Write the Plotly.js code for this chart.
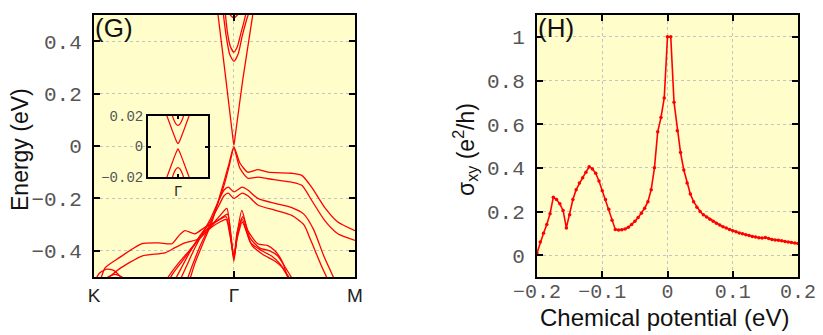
<!DOCTYPE html>
<html>
<head>
<meta charset="utf-8">
<script src="https://cdn.plot.ly/plotly-3.0.1.min.js"></script>
<style>html,body{margin:0;padding:0;background:#fff;}#chart{width:823px;height:335px;}</style>
</head>
<body>
<div id="chart"></div>
<script>
// ---------- Panel (G): band structure, k path K(0) - Γ(1) - M(1.866) ----------
const kTickVals = [0, 1, 1.866];
const kTickText = ['K', 'Γ', 'M'];
const energyTicks = [-0.4, -0.2, 0, 0.2, 0.4];

// conduction bands
const kDirac = [0.886, 0.943, 0.99, 1.0, 1.01, 1.064, 1.136];
const eDirac = [0.504, 0.254, 0.044, 0.003, 0.04, 0.254, 0.504];
const kU1 = [0.936, 0.955, 0.975, 1.0, 1.025, 1.05, 1.07, 1.093];
const eU1 = [0.52, 0.43, 0.38, 0.358, 0.38, 0.43, 0.47, 0.52];
const kU2 = [0.921, 0.945, 0.97, 1.0, 1.03, 1.06, 1.09, 1.114];
const eU2 = [0.52, 0.42, 0.35, 0.323, 0.35, 0.42, 0.48, 0.52];
const kTop = [0.95, 0.975, 1.0, 1.025, 1.055];
const eTop = [0.53, 0.5, 0.49, 0.5, 0.53];

// valence bands
const kA1 = [0.68, 0.72, 0.78, 0.843, 0.9, 0.93, 0.964, 1.0, 1.043, 1.1, 1.171, 1.243, 1.414, 1.486, 1.557, 1.65, 1.743, 1.866];
const eA1 = [-0.52, -0.45, -0.37, -0.29, -0.19, -0.135, -0.07, -0.003, -0.065, -0.1, -0.09, -0.1, -0.104, -0.112, -0.158, -0.235, -0.29, -0.323];
const kA2 = [0.66, 0.7, 0.76, 0.83, 0.89, 0.93, 0.965, 1.0, 1.043, 1.1, 1.171, 1.243, 1.414, 1.486, 1.557, 1.65, 1.743, 1.866];
const eA2 = [-0.52, -0.46, -0.38, -0.30, -0.21, -0.15, -0.08, -0.008, -0.085, -0.123, -0.119, -0.125, -0.138, -0.15, -0.208, -0.285, -0.335, -0.36];
const kB1 = [0.6, 0.66, 0.72, 0.78, 0.84, 0.89, 0.93, 0.96, 1.0, 1.06, 1.1, 1.171, 1.293, 1.414, 1.5, 1.571, 1.643, 1.72];
const eB1 = [-0.53, -0.46, -0.39, -0.33, -0.27, -0.21, -0.168, -0.157, -0.175, -0.157, -0.168, -0.2, -0.219, -0.235, -0.26, -0.32, -0.42, -0.51];
const kB2 = [0.56, 0.62, 0.69, 0.76, 0.83, 0.89, 0.93, 0.96, 1.0, 1.06, 1.1, 1.171, 1.293, 1.414, 1.5, 1.55, 1.62, 1.68];
const eB2 = [-0.53, -0.47, -0.40, -0.34, -0.29, -0.23, -0.19, -0.18, -0.2, -0.18, -0.19, -0.225, -0.245, -0.265, -0.30, -0.36, -0.45, -0.52];
const kC1 = [0.0, 0.043, 0.079, 0.179, 0.343, 0.464, 0.557, 0.607, 0.65, 0.721, 0.793, 0.857, 0.91, 0.95, 0.975, 1.0, 1.025, 1.057, 1.1, 1.171, 1.243, 1.293, 1.343, 1.386];
const eC1 = [-0.56, -0.515, -0.465, -0.427, -0.373, -0.37, -0.373, -0.342, -0.323, -0.335, -0.31, -0.292, -0.26, -0.238, -0.33, -0.44, -0.33, -0.246, -0.323, -0.373, -0.38, -0.40, -0.438, -0.504];
const kC2 = [0.079, 0.179, 0.343, 0.507, 0.579, 0.65, 0.75, 0.857, 0.91, 0.955, 0.977, 1.0, 1.023, 1.064, 1.114, 1.186, 1.257, 1.314, 1.364, 1.414];
const eC2 = [-0.515, -0.47, -0.42, -0.408, -0.388, -0.37, -0.354, -0.296, -0.275, -0.26, -0.33, -0.425, -0.33, -0.27, -0.35, -0.39, -0.40, -0.42, -0.46, -0.504];
const kD1 = [0.5, 0.56, 0.63, 0.7, 0.77, 0.84, 0.9, 0.945, 0.975, 1.0, 1.025, 1.06, 1.12, 1.2, 1.27, 1.33, 1.38, 1.43];
const eD1 = [-0.55, -0.49, -0.44, -0.39, -0.34, -0.3, -0.28, -0.27, -0.34, -0.43, -0.34, -0.28, -0.37, -0.40, -0.42, -0.45, -0.49, -0.53];
const kD2 = [0.46, 0.53, 0.6, 0.68, 0.76, 0.84, 0.9, 0.945, 0.975, 1.0, 1.025, 1.06, 1.13, 1.21, 1.28, 1.34, 1.39, 1.45];
const eD2 = [-0.56, -0.5, -0.45, -0.4, -0.35, -0.31, -0.29, -0.28, -0.35, -0.42, -0.35, -0.29, -0.38, -0.415, -0.435, -0.46, -0.5, -0.54];
const kArc1 = [0.0, 0.04, 0.09, 0.14, 0.19, 0.23];
const eArc1 = [-0.52, -0.485, -0.47, -0.475, -0.5, -0.53];
const kArc2 = [0.06, 0.1, 0.15, 0.2, 0.24];
const eArc2 = [-0.53, -0.5, -0.49, -0.5, -0.53];

// inset: zoom near Γ
const insetTicks = [-0.02, 0, 0.02];
const kInV = [-0.5, -0.35, -0.2, -0.1, -0.04, 0, 0.04, 0.1, 0.2, 0.35, 0.5];
const eInVup = [0.027, 0.019, 0.011, 0.0058, 0.003, 0.0018, 0.003, 0.0058, 0.011, 0.019, 0.027];
const eInVdn = [-0.027, -0.019, -0.011, -0.0058, -0.003, -0.0016, -0.003, -0.0058, -0.011, -0.019, -0.027];
const kInU = [-0.25, -0.15, -0.07, 0, 0.07, 0.15, 0.25];
const eInUup = [0.0245, 0.018, 0.0148, 0.0138, 0.0148, 0.018, 0.0245];
const eInUdn = [-0.0245, -0.018, -0.0148, -0.0138, -0.0148, -0.018, -0.0245];

// ---------- Panel (H): anomalous Hall conductivity ----------
const mu = [-0.200,-0.195,-0.190,-0.185,-0.180,-0.175,-0.170,-0.165,-0.160,-0.155,-0.150,-0.145,-0.140,-0.135,-0.130,-0.125,-0.120,-0.115,-0.110,-0.105,-0.100,-0.095,-0.090,-0.085,-0.080,-0.075,-0.070,-0.065,-0.060,-0.055,-0.050,-0.045,-0.040,-0.035,-0.030,-0.025,-0.020,-0.015,-0.010,-0.005,0.000,0.005,0.010,0.015,0.020,0.025,0.030,0.035,0.040,0.045,0.050,0.055,0.060,0.065,0.070,0.075,0.080,0.085,0.090,0.095,0.100,0.105,0.110,0.115,0.120,0.125,0.130,0.135,0.140,0.145,0.150,0.155,0.160,0.165,0.170,0.175,0.180,0.185,0.190,0.195,0.200];
const sigmaXY = [0.01,0.06,0.10,0.14,0.19,0.265,0.255,0.235,0.205,0.125,0.185,0.255,0.30,0.33,0.355,0.38,0.405,0.395,0.375,0.34,0.295,0.255,0.21,0.16,0.118,0.115,0.116,0.12,0.128,0.14,0.155,0.172,0.192,0.215,0.245,0.30,0.40,0.565,0.63,0.72,1.0,1.0,0.70,0.57,0.47,0.39,0.33,0.28,0.245,0.22,0.20,0.185,0.175,0.165,0.155,0.146,0.138,0.13,0.124,0.118,0.112,0.107,0.102,0.098,0.094,0.09,0.086,0.083,0.08,0.079,0.081,0.076,0.072,0.07,0.068,0.066,0.063,0.06,0.058,0.056,0.053];
const muTicks = [-0.2, -0.1, 0, 0.1, 0.2];
const sigmaTicks = [0, 0.2, 0.4, 0.6, 0.8, 1];

// ---------- build traces ----------
const RED = 'rgb(255,0,0)';
const bands = [
  [kDirac, eDirac], [kU1, eU1], [kU2, eU2], [kTop, eTop],
  [kA1, eA1], [kA2, eA2], [kB1, eB1], [kB2, eB2],
  [kC1, eC1], [kC2, eC2], [kD1, eD1], [kD2, eD2],
  [kArc1, eArc1], [kArc2, eArc2]
];
const traces = bands.map(([k, e]) => ({
  x: k, y: e, xaxis: 'x', yaxis: 'y', type: 'scatter', mode: 'lines',
  line: {color: RED, width: 1.3, shape: 'spline', smoothing: 0.6},
  hoverinfo: 'skip', showlegend: false
}));
[[kInV, eInVup], [kInV, eInVdn], [kInU, eInUup], [kInU, eInUdn]].forEach(([k, e]) => {
  traces.push({
    x: k, y: e, xaxis: 'x3', yaxis: 'y3', type: 'scatter', mode: 'lines',
    line: {color: RED, width: 1.2, shape: 'spline', smoothing: 0.6},
    hoverinfo: 'skip', showlegend: false
  });
});
traces.push({
  x: mu, y: sigmaXY, xaxis: 'x2', yaxis: 'y2', type: 'scatter', mode: 'lines+markers',
  line: {color: RED, width: 1.6}, marker: {color: RED, size: 3.5},
  hoverinfo: 'skip', showlegend: false
});

const W = 823, H = 335;
const px = v => v / W, py = v => 1 - v / H;
const monoFont = {family: 'Liberation Mono, monospace', size: 21, color: '#555'};
const frame = {
  showline: true, linecolor: '#000', linewidth: 2, mirror: 'ticks',
  ticks: 'inside', ticklen: 6, tickwidth: 2, tickcolor: '#000',
  zeroline: false, showgrid: true, gridcolor: '#c4c4c4', griddash: 'dot', gridwidth: 1
};

const layout = {
  width: W, height: H,
  margin: {l: 0, r: 0, t: 0, b: 0},
  paper_bgcolor: '#ffffff',
  plot_bgcolor: '#fffdca',
  font: {family: 'Liberation Sans, Arial, sans-serif', color: '#111'},
  showlegend: false,
  xaxis: Object.assign({}, frame, {
    domain: [px(94), px(355)], anchor: 'y', range: [0, 1.866],
    tickmode: 'array', tickvals: kTickVals, ticktext: kTickText,
    tickfont: {family: 'Liberation Sans, Arial, sans-serif', size: 19, color: '#222'}
  }),
  yaxis: Object.assign({}, frame, {
    domain: [py(277), py(15)], anchor: 'x', range: [-0.5, 0.5],
    tickmode: 'array', tickvals: energyTicks, tickfont: monoFont, ticklabelstandoff: 6
  }),
  xaxis2: Object.assign({}, frame, {
    domain: [px(537), px(798)], anchor: 'y2', range: [-0.2, 0.2],
    tickmode: 'array', tickvals: muTicks, tickfont: Object.assign({}, monoFont, {size: 20}), ticklabelstandoff: -5
  }),
  yaxis2: Object.assign({}, frame, {
    domain: [py(277), py(15)], anchor: 'x2', range: [-0.1, 1.1],
    tickmode: 'array', tickvals: sigmaTicks, tickfont: monoFont, ticklabelstandoff: 6
  }),
  xaxis3: Object.assign({}, frame, {
    domain: [px(148), px(208)], anchor: 'y3', range: [-1, 1],
    tickmode: 'array', tickvals: [0], ticktext: ['Γ'], ticklen: 3, showgrid: false,
    tickfont: {family: 'Liberation Sans, Arial, sans-serif', size: 14, color: '#222'}
  }),
  yaxis3: Object.assign({}, frame, {
    domain: [py(177), py(116)], anchor: 'x3', range: [-0.02, 0.02],
    tickmode: 'array', tickvals: insetTicks, ticklen: 3, showgrid: false,
    tickfont: {family: 'Liberation Mono, monospace', size: 14, color: '#555'}
  }),
  annotations: [
    {text: '(G)', xref: 'paper', yref: 'paper', x: px(93), y: py(11), xanchor: 'left', yanchor: 'top',
     showarrow: false, font: {size: 26, color: '#111'}},
    {text: '(H)', xref: 'paper', yref: 'paper', x: px(536), y: py(11), xanchor: 'left', yanchor: 'top',
     showarrow: false, font: {size: 26, color: '#111'}},
    {text: 'Energy (eV)', xref: 'paper', yref: 'paper', x: px(20), y: py(150), textangle: -90,
     xanchor: 'center', yanchor: 'middle', showarrow: false, font: {size: 23, color: '#111'}},
    {text: 'σ<sub>xy</sub> (e<sup>2</sup>/h)', xref: 'paper', yref: 'paper', x: px(465), y: py(150), textangle: -90,
     xanchor: 'center', yanchor: 'middle', showarrow: false, font: {size: 23, color: '#111'}},
    {text: 'Chemical potential (eV)', xref: 'paper', yref: 'paper', x: px(664), y: py(317),
     xanchor: 'center', yanchor: 'middle', showarrow: false, font: {size: 24, color: '#111'}}
  ]
};

Plotly.newPlot('chart', traces, layout, {staticPlot: true, displayModeBar: false});
</script>
</body>
</html>
